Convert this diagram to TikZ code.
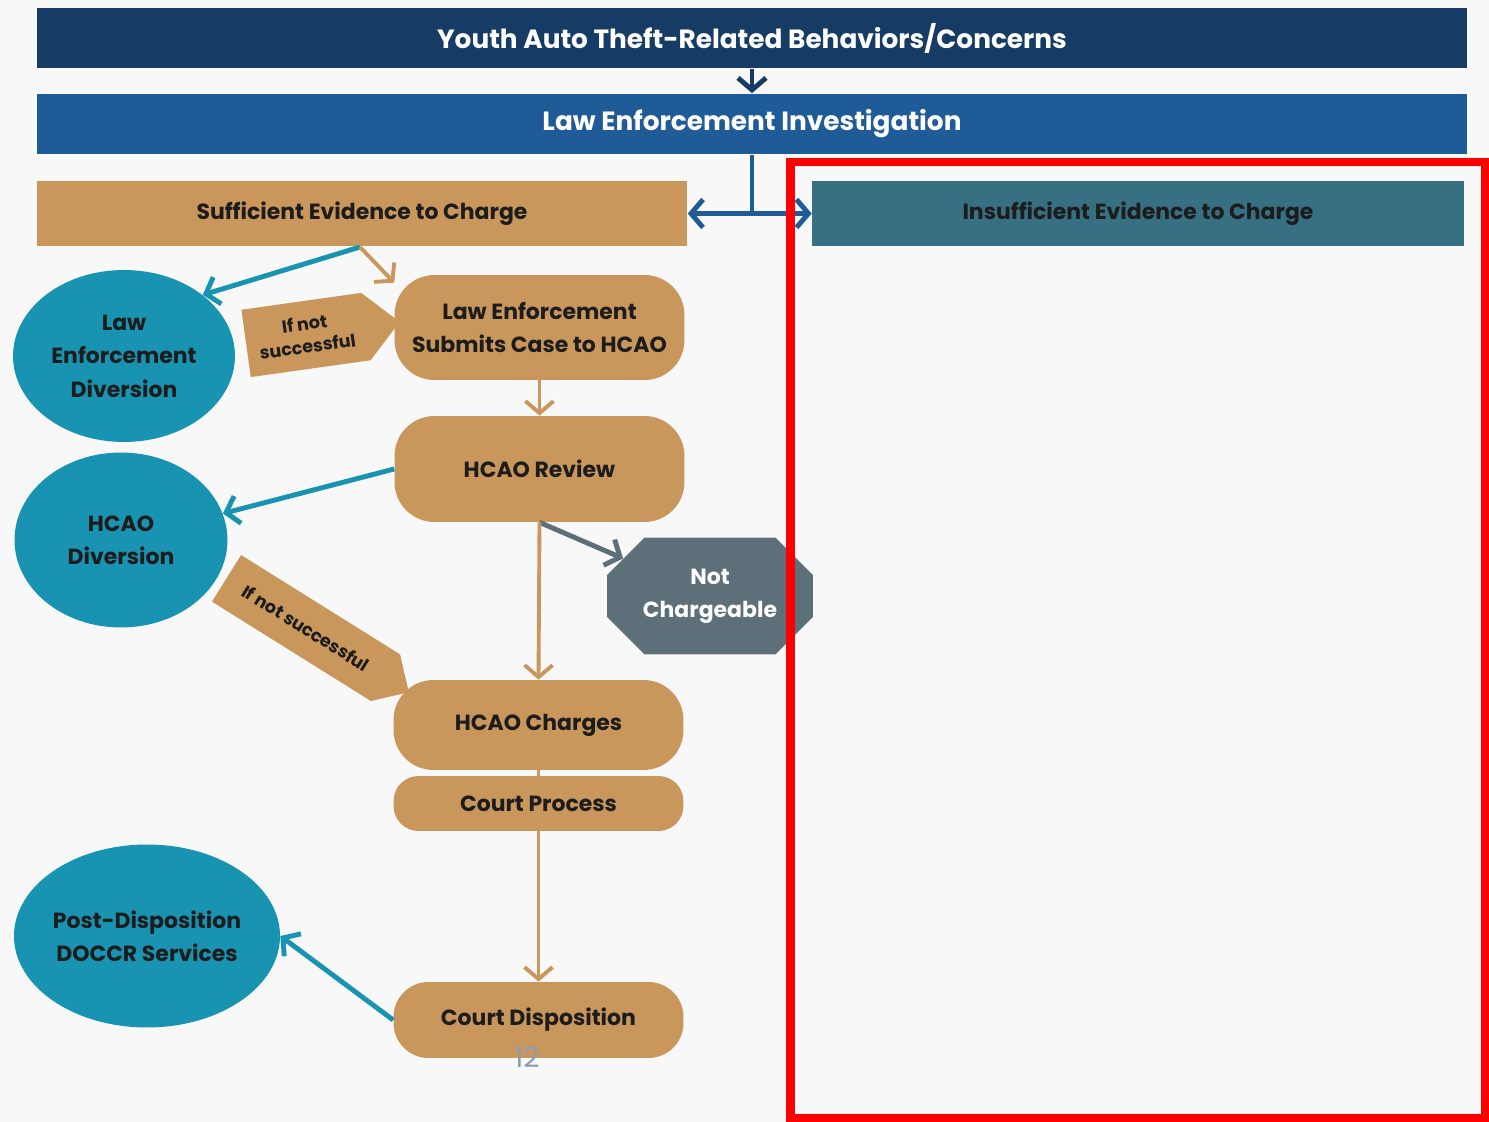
\documentclass[tikz,border=0pt]{standalone}
\usepackage{fontspec}
\setmainfont{Poppins}
\usetikzlibrary{arrows.meta,shapes.geometric,shapes.misc,shapes.symbols}

\definecolor{navy}{HTML}{163C66}
\definecolor{invblue}{HTML}{1F5B97}
\definecolor{tan}{HTML}{C9975B}
\definecolor{steel}{HTML}{376F83}
\definecolor{lagoon}{HTML}{1894B2}
\definecolor{slate}{HTML}{5D7079}
\definecolor{txt}{HTML}{1C1C1C}
\definecolor{pagegray}{HTML}{8C9DB5}
\definecolor{bg}{HTML}{F8F8F8}

\begin{document}
\begin{tikzpicture}[x=0.02cm,y=-0.02cm,>={Straight Barb[length=2.4mm,width=5.6mm]},
    every node/.style={inner sep=0pt,align=center,text=txt,
      font=\bfseries\fontsize{12.5}{19}\selectfont},
    bar/.style={rectangle,minimum width=28.6cm,minimum height=1.22cm,text=white,
      font=\bfseries\fontsize{15}{18}\selectfont},
    tanbox/.style={rectangle,fill=tan,minimum width=5.8cm,rounded corners=0.8cm},
    disc/.style={ellipse,fill=lagoon},
    tag/.style={signal,signal to=east,fill=tan,font=\bfseries\fontsize{10}{13}\selectfont},
    link/.style={->,line width=2.8pt}]
        %\useasboundingbox keeps the slide margins
        \useasboundingbox[fill=bg] (0,0) rectangle (1489,1122);

        \node[bar,fill=navy]   (yat)  at (752,38)  {Youth Auto Theft-Related Behaviors/Concerns};
        \node[bar,fill=invblue] (lei) at (752,124) {Law Enforcement Investigation};
        \node[rectangle,fill=tan,minimum width=13.02cm,minimum height=1.3cm]
            (suff) at (362,213.5) {Sufficient Evidence to Charge};
        \node[rectangle,fill=steel,minimum width=13.04cm,minimum height=1.3cm]
            (insuff) at (1138,213.5) {Insufficient Evidence to Charge};

        \node[disc,minimum width=4.44cm,minimum height=3.44cm] (led)  at (124,356) {Law\\Enforcement\\Diversion};
        \node[disc,minimum width=4.26cm,minimum height=3.5cm]  (hdiv) at (121,540) {HCAO\\Diversion};
        \node[disc,minimum width=5.32cm,minimum height=3.66cm] (post) at (147,936) {Post-Disposition\\DOCCR Services};

        \node[tanbox,minimum height=2.1cm]  (lesub) at (539.5,327.5) {Law Enforcement\\Submits Case to HCAO};
        \node[tanbox,minimum height=2.12cm] (rev)   at (539.5,469)   {HCAO Review};
        \node[tanbox,minimum height=1.8cm]  (chg)   at (538.5,725)   {HCAO Charges};
        \node[tanbox,minimum height=1.1cm,rounded corners=0.5cm] (court) at (538.5,803.5) {Court Process};
        \node[tanbox,minimum height=1.52cm,rounded corners=0.7cm] (disp) at (538.5,1020) {Court Disposition};

        \node[chamfered rectangle,fill=slate,text=white,minimum width=4.12cm,minimum height=2.34cm,
            chamfered rectangle xsep=0.3cm,chamfered rectangle ysep=0.45cm]
            (notc) at (710,596) {Not\\Chargeable};

        \node[tag,rotate=8,minimum width=3.1cm,minimum height=1.36cm]  (tag1) at (306,335) {If not\\successful};
        \node[tag,rotate=-32,minimum width=4.3cm,minimum height=1.1cm] (tag2) at (306,628) {If not successful};

        \node[font=\fontsize{16}{18}\selectfont,text=pagegray] (pg) at (527,1057) {12};

        \coordinate (split) at (360,247);

        \draw[link,navy] (yat.south) -- (lei.north);
        \draw[link,invblue] (lei.south) |- (suff.east);
        \draw[link,invblue] (lei.south) |- (insuff.west);
        \draw[link,lagoon] (split) -- (led.north east);
        \draw[link,tan,line width=2.2pt] (split) -- ([yshift=-0.16cm]lesub.north west);
        \draw[link,tan,line width=2.2pt] (lesub) -- (rev);
        \draw[link,lagoon] (rev.west) -- (hdiv);
        \draw[link,slate] (rev.south) -- (notc);
        \draw[link,tan,line width=2.2pt] (rev.south) -- (chg.north);
        \draw[tan,line width=2.2pt] (chg.south) -- (court.north);
        \draw[link,tan,line width=2.2pt] (court.south) -- (disp.north);
        \draw[link,lagoon] (disp.west) -- (post.east);

        \draw[red,line width=0.18cm] (790,162) rectangle (1485,1118);
    \end{tikzpicture}
\end{document}
